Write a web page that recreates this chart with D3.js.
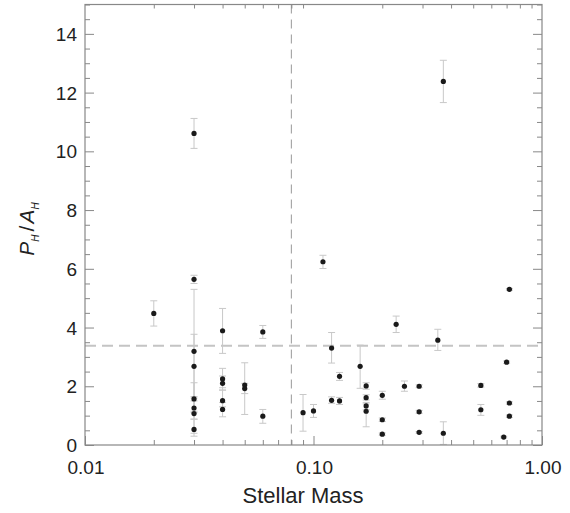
<!DOCTYPE html>
<html><head><meta charset="utf-8">
<script src="https://cdn.jsdelivr.net/npm/d3@7/dist/d3.min.js"></script>
<style>body{margin:0;background:#fff}svg{display:block}text{font-family:"Liberation Sans",Arial,sans-serif}</style>
</head><body>
<svg id="c" width="570" height="513"></svg>
<script>
const masses = [0.02,0.03,0.03,0.03,0.03,0.03,0.03,0.03,0.03,0.04,0.04,0.04,0.04,0.04,0.05,0.05,0.06,0.06,0.09,0.10,0.11,0.12,0.12,0.13,0.13,0.16,0.17,0.17,0.17,0.17,0.20,0.20,0.20,0.23,0.25,0.29,0.29,0.29,0.35,0.37,0.37,0.54,0.54,0.68,0.70,0.72,0.72,0.72];
const ratios = [4.48,10.61,5.64,3.19,2.68,1.57,1.26,1.07,0.53,3.89,2.25,2.10,1.51,1.21,2.04,1.92,3.85,0.98,1.10,1.16,6.24,3.30,1.52,2.34,1.50,2.68,2.01,1.61,1.33,1.15,1.69,0.86,0.37,4.11,2.00,2.00,1.13,0.43,3.57,12.38,0.40,2.03,1.20,0.27,2.82,1.43,0.98,5.30];
const errLow = [4.05,10.10,5.50,1.10,1.60,1.15,0.88,0.40,0.30,3.12,1.95,1.87,1.30,0.96,1.04,1.75,3.63,0.74,0.47,0.94,6.01,2.79,1.42,2.20,1.38,1.93,1.90,1.53,1.20,0.62,1.56,0.80,0.33,3.83,1.83,1.95,1.08,0.40,3.22,11.66,0.02,1.97,1.01,0.24,2.78,1.39,0.94,5.27];
const errHigh = [4.91,11.12,5.78,5.30,3.77,2.12,1.65,1.50,0.88,4.65,2.61,2.35,1.87,1.45,2.80,2.10,4.07,1.21,1.72,1.38,6.46,3.83,1.64,2.47,1.62,3.40,2.12,1.71,1.45,1.40,1.83,0.92,0.41,4.39,2.18,2.05,1.18,0.46,3.94,13.10,0.79,2.09,1.38,0.30,2.86,1.47,1.02,5.33];
const xTickLabels = ["0.01","0.10","1.00"];
const yTicks = [0,2,4,6,8,10,12,14];
const massLimit = 0.08;
const ratioLimit = 3.38;

const svg = d3.select("#c");
const L=85, R=542, T=4.5, B=445;
const x = d3.scaleLog().domain([0.01,1]).range([L,R]);
const y = d3.scaleLinear().domain([0,15]).range([B,T]);
const axisCol = "#888";

const xMinor = [];
for (const d of [0.01,0.1]) for (let k=2;k<=9;k++) xMinor.push(d*k);
const xMajor = [0.01,0.1,1];
const yMinor = d3.range(0,15.01,0.5).filter(v=>v%2!==0);

const g = svg.append("g");
g.append("line").attr("x1",x(massLimit)).attr("x2",x(massLimit)).attr("y1",T).attr("y2",B)
 .attr("stroke","#999").attr("stroke-width",1).attr("stroke-dasharray","9,6");
g.append("line").attr("x1",L).attr("x2",R).attr("y1",y(ratioLimit)).attr("y2",y(ratioLimit))
 .attr("stroke","#c4c4c4").attr("stroke-width",1.8).attr("stroke-dasharray","11,6");

const data = masses.map((m,i)=>({m, r:ratios[i], lo:errLow[i], hi:errHigh[i]}));
const eb = g.append("g").attr("stroke","#c8c8c8").attr("stroke-width",1);
data.forEach(d=>{
  const cx = x(d.m);
  eb.append("line").attr("x1",cx).attr("x2",cx).attr("y1",y(d.lo)).attr("y2",y(d.hi));
  eb.append("line").attr("x1",cx-3.5).attr("x2",cx+3.5).attr("y1",y(d.lo)).attr("y2",y(d.lo));
  eb.append("line").attr("x1",cx-3.5).attr("x2",cx+3.5).attr("y1",y(d.hi)).attr("y2",y(d.hi));
});
g.append("g").selectAll("circle").data(data).join("circle")
 .attr("cx",d=>x(d.m)).attr("cy",d=>y(d.r)).attr("r",2.6).attr("fill","#1a1a1a");

function styleAxis(sel){ sel.select(".domain").remove(); sel.selectAll("line").attr("stroke",axisCol); }
const ax = svg.append("g");
ax.append("g").attr("transform",`translate(0,${B})`).call(d3.axisTop(x).tickValues(xMinor).tickSize(5).tickFormat("")).call(styleAxis);
ax.append("g").attr("transform",`translate(0,${B})`).call(d3.axisTop(x).tickValues(xMajor).tickSize(9).tickFormat("")).call(styleAxis);
ax.append("g").attr("transform",`translate(0,${T})`).call(d3.axisBottom(x).tickValues(xMinor).tickSize(4).tickFormat("")).call(styleAxis);
ax.append("g").attr("transform",`translate(${L},0)`).call(d3.axisRight(y).tickValues(yMinor).tickSize(5).tickFormat("")).call(styleAxis);
ax.append("g").attr("transform",`translate(${L},0)`).call(d3.axisRight(y).tickValues(yTicks).tickSize(9).tickFormat("")).call(styleAxis);
ax.append("g").attr("transform",`translate(${R},0)`).call(d3.axisLeft(y).tickValues(yMinor).tickSize(5).tickFormat("")).call(styleAxis);
ax.append("g").attr("transform",`translate(${R},0)`).call(d3.axisLeft(y).tickValues(yTicks).tickSize(9).tickFormat("")).call(styleAxis);
ax.append("rect").attr("x",L).attr("y",T).attr("width",R-L).attr("height",B-T)
 .attr("fill","none").attr("stroke",axisCol).attr("stroke-width",1.2);

ax.append("g").selectAll("text").data(yTicks).join("text")
 .attr("x",L-8).attr("y",d=>y(d)+7).attr("text-anchor","end")
 .attr("font-size",19).attr("fill","#222").text(d=>d);
ax.append("g").selectAll("text").data(xMajor).join("text")
 .attr("x",d=>x(d)+1).attr("y",474).attr("text-anchor","middle")
 .attr("font-size",19).attr("fill","#222").text((d,i)=>xTickLabels[i]);

svg.append("text").attr("x",303).attr("y",503).attr("text-anchor","middle")
 .attr("font-size",22).attr("fill","#222").text("Stellar Mass");
const yl = svg.append("text").attr("transform","translate(33.5,229) rotate(-90)")
 .attr("text-anchor","middle").attr("font-size",21).attr("fill","#222");
yl.append("tspan").attr("font-style","italic").text("P");
yl.append("tspan").attr("font-style","italic").attr("font-size",10).attr("dy",5).text("H");
yl.append("tspan").attr("dy",-5).attr("dx",3).text("/");
yl.append("tspan").attr("font-style","italic").attr("dx",2).text("A");
yl.append("tspan").attr("font-style","italic").attr("font-size",10).attr("dy",5).text("H");
</script>
</body></html>
